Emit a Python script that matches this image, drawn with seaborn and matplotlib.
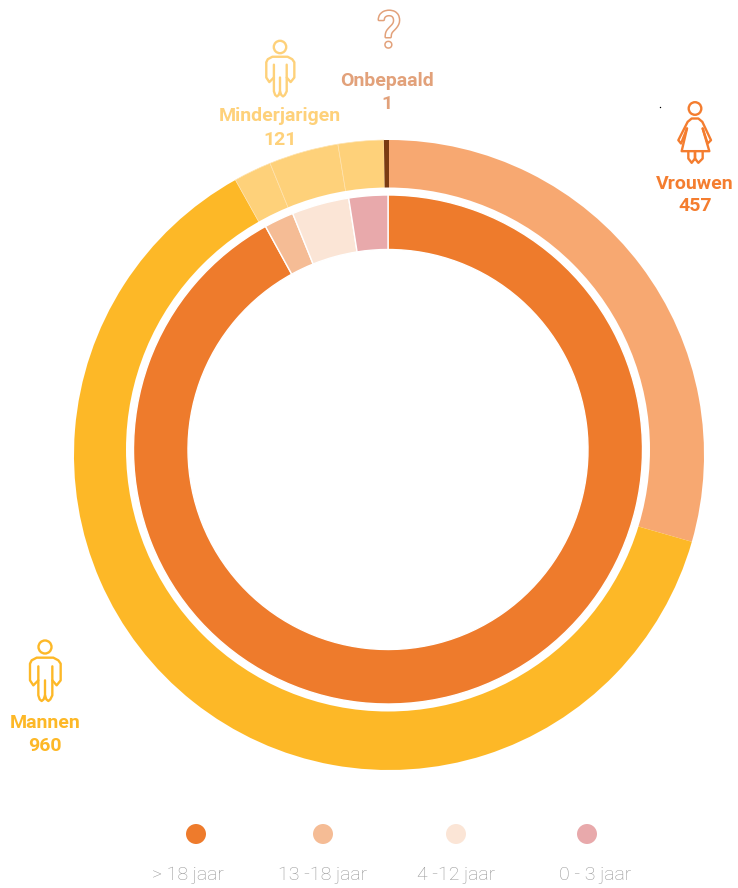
import matplotlib
matplotlib.use("Agg")
import matplotlib.pyplot as plt
import matplotlib.patheffects as pe
from matplotlib.patches import Circle
import pandas as pd
import seaborn as sns

# buitenste ring
buiten_namen = ["Vrouwen", "Mannen", "13-18", "4-12", "0-3", "Onbepaald"]
buiten_waarden = [454, 963, 30, 55, 36, 4]
buiten_kleuren = ["#F7A871", "#FDB827", "#FED17A", "#FED17A", "#FED17A", "#7A3B12"]

# binnenste ring
binnen_namen = ["> 18 jaar", "13 -18 jaar", "4 -12 jaar", "0 - 3 jaar"]
binnen_waarden = [1416, 29, 56, 38]
binnen_kleuren = ["#EE7B2C", "#F5BC95", "#FBE5D6", "#E8A9AB"]

legenda_x = [196, 323, 456, 587]
legenda_tekst_x = [188, 323, 456, 595]

H = 888


def yy(y):
    return H - y


sns.set_theme(style="white")
plt.rcParams["font.family"] = ["Roboto", "DejaVu Sans"]

fig = plt.figure(figsize=(7.38, 8.88), dpi=100)
ax = fig.add_axes([0, 0, 1, 1])

# ringen
w_buiten, _ = ax.pie(buiten_waarden, colors=buiten_kleuren, radius=315, center=(389, yy(455)),
                     startangle=90, counterclock=False, wedgeprops={"linewidth": 0})
for w in w_buiten[2:5]:
    w.set_edgecolor("#FFE3AE")
    w.set_linewidth(0.5)
ax.add_patch(Circle((388, yy(449.5)), 262, color="white", lw=0, zorder=3))
w_binnen, _ = ax.pie(binnen_waarden, colors=binnen_kleuren, radius=254.5, center=(388, yy(449.5)),
                     startangle=90, counterclock=False,
                     wedgeprops={"width": 54.5, "linewidth": 1, "edgecolor": "white"})
for w in w_binnen:
    w.set_zorder(4)

ax.set_xlim(0, 738)
ax.set_ylim(0, H)
ax.set_aspect("equal")
ax.axis("off")

# legenda
df = pd.DataFrame({"x": legenda_x, "y": [yy(834)] * 4, "groep": binnen_namen})
sns.scatterplot(data=df, x="x", y="y", hue="groep", palette=binnen_kleuren, s=207,
                linewidth=0, legend=False, ax=ax, zorder=5)
ax.set_xlim(0, 738)
ax.set_ylim(0, H)
ax.axis("off")
for x, naam in zip(legenda_tekst_x, binnen_namen):
    ax.text(x, yy(875), naam, ha="center", va="center", fontsize=14,
            fontweight="light", color="#969696")


def icoon(lijnen, hoofd, r, kleur, schaal=1 / 3):
    hx, hy = hoofd
    ax.add_patch(Circle((hx, yy(hy)), r, fill=False, ec=kleur, lw=1.7, zorder=6))
    for lijn in lijnen:
        xs = [hx + p[0] * schaal for p in lijn]
        ys = [yy(hy + p[1] * schaal) for p in lijn]
        ax.plot(xs, ys, color=kleur, lw=1.7, solid_joinstyle="round", solid_capstyle="round", zorder=6)


man = [
    [(-20, 58), (-20, 145), (-16, 157), (-10, 162), (-4, 157), (0, 145), (0, 100)],
    [(0, 145), (4, 157), (10, 162), (16, 157), (22, 145), (22, 58)],
    [(-20, 100), (-35, 115), (-45, 100), (-45, 50), (-40, 40), (-25, 32), (25, 32), (40, 40), (47, 50), (47, 100),
     (35, 115), (22, 100)],
]
vrouw = [
    [(-24, 60), (-40, 128), (43, 128), (23, 60)],
    [(-24, 60), (-42, 105), (-50, 95), (-22, 40), (-10, 30), (10, 30), (22, 40), (48, 95), (38, 105), (23, 60)],
    [(-20, 128), (-20, 150), (-10, 163), (0, 150), (0, 128), (0, 150), (10, 163), (23, 150), (23, 128)],
]
icoon(man, (45, 647), 6.5, "#FDB827")
icoon(man, (280, 47), 6.2, "#FED17A", schaal=0.305)
icoon(vrouw, (695, 108.5), 6.3, "#F47D2F")

# labels
labels = [
    (695, 184, "Vrouwen", "#F47D2F"), (695, 206, "457", "#F47D2F"),
    (45, 723, "Mannen", "#FDB827"), (45, 746, "960", "#FDB827"),
    (280, 116, "Minderjarigen", "#FED17A"), (280, 140, "121", "#FED17A"),
    (387, 81, "Onbepaald", "#E2A17A"), (387, 104, "1", "#E2A17A"),
]
for x, y, tekst, kleur in labels:
    ax.text(x, yy(y), tekst, ha="center", va="center", fontsize=14, fontweight="bold", color=kleur)

ax.text(389, yy(33), "?", ha="center", va="center", fontsize=36, fontweight="normal", color="white",
        path_effects=[pe.withStroke(linewidth=2.2, foreground="#E2A17A")], zorder=6)

# stipje rechtsboven
ax.plot([660], [yy(107)], marker="o", ms=1, color="black", mew=0)

fig.savefig("out.png", dpi=100)
